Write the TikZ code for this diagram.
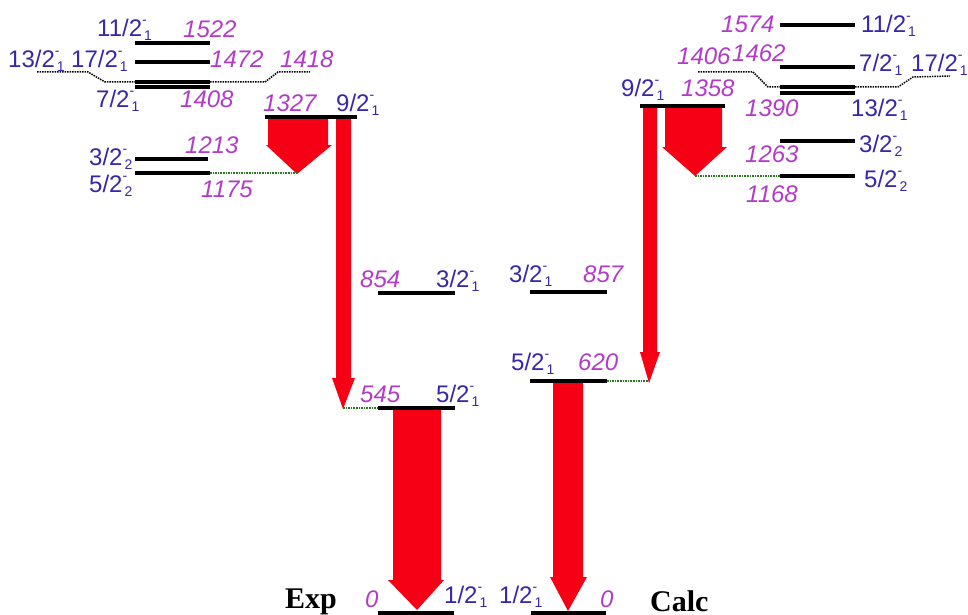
\documentclass[tikz,border=0pt]{standalone}
\usepackage{fontspec}
\setmainfont{Liberation Sans}
\newfontfamily\serifbf{Liberation Serif}
\definecolor{enc}{RGB}{178,60,200}
\definecolor{jc}{RGB}{55,40,170}
\definecolor{arr}{RGB}{245,0,20}
\definecolor{gdot}{RGB}{40,120,30}
\newcommand{\jp}[2]{#1\makebox[0pt][l]{\raisebox{12pt}{\fontsize{14}{14}\selectfont -}}\raisebox{-4pt}{\kern2pt\fontsize{14}{14}\selectfont #2}}
\tikzset{
  lev/.style={line width=4pt},
  en/.style={text=enc, font=\fontsize{24}{24}\selectfont\itshape, anchor=base west, inner sep=0pt},
  jl/.style={text=jc, font=\fontsize{24}{24}\selectfont, anchor=base west, inner sep=0pt},
  ttl/.style={font=\fontsize{30}{30}\selectfont\serifbf\bfseries, anchor=base west, inner sep=0pt},
  bdot/.style={densely dotted, line width=1.5pt, black},
  gdotl/.style={densely dotted, line width=1.6pt, gdot},
  arrow/.style={fill=arr, draw=none}
}
\begin{document}
\begin{tikzpicture}[x=1pt,y=-1pt]
\useasboundingbox (0,0) rectangle (968,615);
\clip (0,0) rectangle (968,615);
\fill[white] (0,0) rectangle (968,615);

% ---------- arrows (drawn first) ----------
% Exp
\fill[arrow] (268,117) -- (328,117) -- (328,145) -- (332,145) -- (297,174) -- (266,145) -- (268,145) -- cycle;
\fill[arrow] (336,117) -- (351,117) -- (351,378) -- (355,378) -- (343,409) -- (332,378) -- (336,378) -- cycle;
\fill[arrow] (393,408) -- (441,408) -- (441,580) -- (444,580) -- (417,610) -- (388,580) -- (393,580) -- cycle;
% Calc
\fill[arrow] (665,106) -- (722,106) -- (722,147) -- (727,147) -- (695,176) -- (662,147) -- (665,147) -- cycle;
\fill[arrow] (643,106) -- (657,106) -- (657,352) -- (660,352) -- (649,383) -- (640,352) -- (643,352) -- cycle;
\fill[arrow] (553,381) -- (583,381) -- (583,577) -- (587,577) -- (568,611) -- (550,577) -- (553,577) -- cycle;

% ---------- dotted connectors ----------
\draw[bdot] (37,72) -- (88,72) -- (105,82) -- (135,82);
\draw[bdot] (210,82) -- (265,82) -- (278,72) -- (310,72);
\draw[gdotl] (210,173) -- (297,173);
\draw[gdotl] (343,408) -- (378,408);
\draw[bdot] (698,72) -- (753,72) -- (768,87) -- (780,87);
\draw[bdot] (855,87) -- (898,87) -- (913,77) -- (950,76);
\draw[gdotl] (695,176) -- (780,176);
\draw[gdotl] (607,381) -- (650,381);

% ---------- Exp levels ----------
\draw[lev] (135,43) -- (210,43);
\draw[lev] (135,62) -- (210,62);
\draw[line width=4.5pt] (135,82) -- (210,82);
\draw[line width=4.5pt] (135,87) -- (210,87);
\draw[lev] (265,117) -- (357,117);
\draw[lev] (135,159) -- (208,159);
\draw[lev] (135,173) -- (210,173);
\draw[lev] (378,293) -- (455,293);
\draw[lev] (378,408) -- (455,408);
\draw[lev] (378,613) -- (454,613);

% ---------- Calc levels ----------
\draw[lev] (780,25) -- (855,25);
\draw[lev] (780,67) -- (855,67);
\draw[lev] (780,87) -- (855,87);
\draw[lev] (780,93) -- (855,93);
\draw[lev] (640,106) -- (725,106);
\draw[lev] (780,141) -- (855,141);
\draw[lev] (780,176) -- (855,176);
\draw[lev] (530,292) -- (607,292);
\draw[lev] (530,381) -- (607,381);
\draw[lev] (531,613) -- (606,613);

% ---------- Exp labels ----------
\node[jl] (e1j) at (97,37) {\jp{11/2}{1}};
\node[en] (e1e) at (183,38) {1522};
\node[jl] (e2j) at (8,68) {\jp{13/2}{1}};
\node[jl] (e3j) at (71,68) {\jp{17/2}{1}};
\node[en] (e2e) at (210,68) {1472};
\node[en] (e3e) at (280,68) {1418};
\node[jl] (e4j) at (96,107) {\jp{7/2}{1}};
\node[en] (e4e) at (180,107) {1408};
\node[en] (e5e) at (263,112) {1327};
\node[jl] (e5j) at (336,112) {\jp{9/2}{1}};
\node[en] (e6e) at (185,153) {1213};
\node[jl] (e6j) at (89,165) {\jp{3/2}{2}};
\node[jl] (e7j) at (89,192) {\jp{5/2}{2}};
\node[en] (e7e) at (201,197) {1175};
\node[en] (e8e) at (360,287) {854};
\node[jl] (e8j) at (436,287) {\jp{3/2}{1}};
\node[en] (e9e) at (360,402) {545};
\node[jl] (e9j) at (436,402) {\jp{5/2}{1}};
\node[en] (e0e) at (365,607) {0};
\node[jl] (e0j) at (444,603) {\jp{1/2}{1}};
\node[ttl] (exp) at (285,608) {Exp};

% ---------- Calc labels ----------
\node[en] (c1e) at (721,33) {1574};
\node[jl] (c1j) at (861,33) {\jp{11/2}{1}};
\node[en] (c2e) at (677,65) {1406};
\node[en] (c3e) at (732,62) {1462};
\node[jl] (c3j) at (859,72) {\jp{7/2}{1}};
\node[jl] (c4j) at (911,72) {\jp{17/2}{1}};
\node[jl] (c5j) at (621,97) {\jp{9/2}{1}};
\node[en] (c5e) at (681,97) {1358};
\node[en] (c6e) at (745,117) {1390};
\node[jl] (c6j) at (851,117) {\jp{13/2}{1}};
\node[jl] (c7j) at (859,152) {\jp{3/2}{2}};
\node[en] (c7e) at (745,162) {1263};
\node[jl] (c8j) at (864,187) {\jp{5/2}{2}};
\node[en] (c8e) at (746,202) {1168};
\node[jl] (c9j) at (509,282) {\jp{3/2}{1}};
\node[en] (c9e) at (583,282) {857};
\node[jl] (c10j) at (511,370) {\jp{5/2}{1}};
\node[en] (c10e) at (578,370) {620};
\node[jl] (c0j) at (499,603) {\jp{1/2}{1}};
\node[en] (c0e) at (600,607) {0};
\node[ttl] (calc) at (650,611) {Calc};
\end{tikzpicture}
\end{document}
